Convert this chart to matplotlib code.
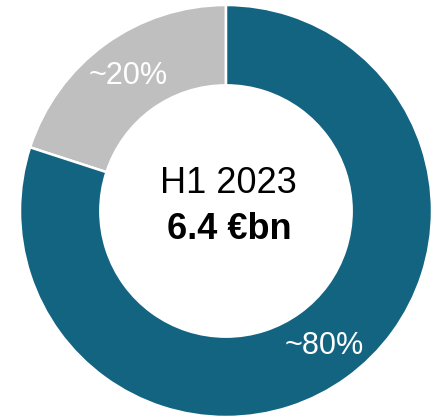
import matplotlib
matplotlib.use("Agg")
import matplotlib.pyplot as plt

categories = ["Other", "Main"]
values = [20, 80]
labels = ["~20%", "~80%"]
colors = ["#BFBFBF", "#136481"]
center_title = "H1 2023"
center_value = "6.4 €bn"

plt.rcParams['font.family'] = ['Liberation Sans', 'DejaVu Sans']

fig = plt.figure(figsize=(4.38, 4.19), dpi=100)
W, H = 438, 419
ax = fig.add_axes([20 / W, 2 / H, 412 / W, 412 / H])
wedges, texts = ax.pie(values, labels=labels, colors=colors, startangle=90,
                       counterclock=True, labeldistance=0.81,
                       wedgeprops=dict(width=0.39, edgecolor='white', linewidth=1.8),
                       textprops=dict(color='white', fontsize=22))
for t in texts:
    t.set_ha('center')
    t.set_va('center')
ax.set_xlim(-1, 1)
ax.set_ylim(-1, 1)
ax.set_aspect('equal')
ax.axis('off')

ax.text(0.01, 0.135, center_title, ha='center', va='center', fontsize=26, color='black')
ax.text(0.015, -0.09, center_value, ha='center', va='center', fontsize=26,
        fontweight='bold', color='black')

fig.savefig("out.png", dpi=100)
